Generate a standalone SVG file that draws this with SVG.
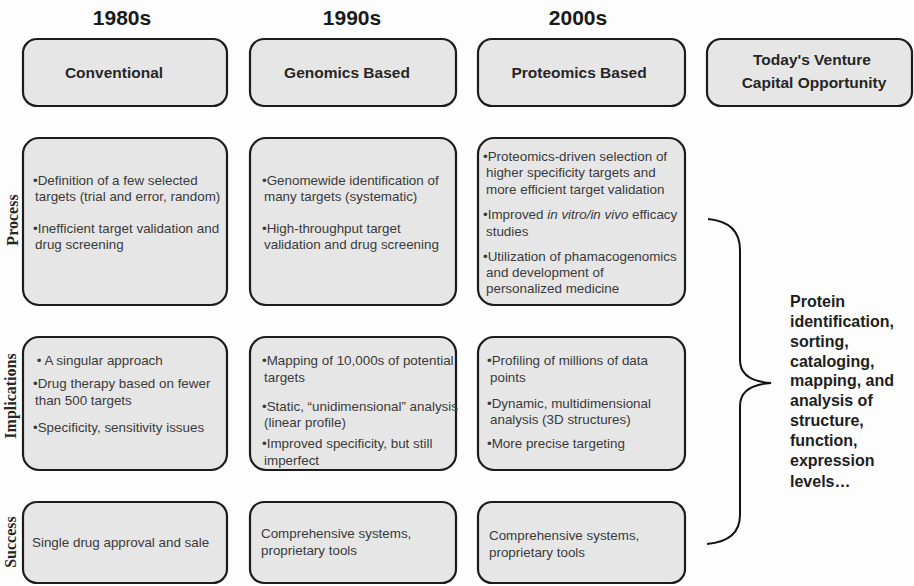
<svg xmlns="http://www.w3.org/2000/svg" width="914" height="586" viewBox="0 0 914 586">
<style>
.box{fill:#e6e6e6;stroke:#1c1c1c;stroke-width:2.2}
.yr{font-family:"Liberation Sans",Arial,sans-serif;font-weight:bold;font-size:21px;fill:#1a1a1a;text-anchor:middle}
.hd{font-family:"Liberation Sans",Arial,sans-serif;font-weight:bold;font-size:15.5px;fill:#262626;text-anchor:middle}
.tx{font-family:"Liberation Sans",Arial,sans-serif;font-size:13.4px;fill:#3a3a3a}
.row{font-family:"Liberation Serif","Times New Roman",serif;font-weight:bold;font-size:16px;fill:#262626;text-anchor:middle}
.side{font-family:"Liberation Sans",Arial,sans-serif;font-weight:bold;font-size:16px;fill:#1e1e1e}
.brace{fill:none;stroke:#111;stroke-width:2}
</style>
<rect width="914" height="586" fill="#fdfdfd"/>
<g id="years">
<text class="yr" x="122" y="25">1980s</text>
<text class="yr" x="352" y="25">1990s</text>
<text class="yr" x="578" y="25">2000s</text>
</g>
<g id="row-labels">
<text class="row" transform="translate(18,220) rotate(-90)">Process</text>
<text class="row" transform="translate(16,396) rotate(-90)">Implications</text>
<text class="row" transform="translate(16,542) rotate(-90)">Success</text>
</g>
<g id="h-conventional"><rect class="box" x="23" y="39" width="204" height="67" rx="14"/><text class="hd" x="114" y="78">Conventional</text></g>
<g id="h-genomics"><rect class="box" x="250" y="39" width="206" height="67" rx="14"/><text class="hd" x="347" y="78">Genomics Based</text></g>
<g id="h-proteomics"><rect class="box" x="478" y="39" width="207" height="67" rx="14"/><text class="hd" x="579" y="78">Proteomics Based</text></g>
<g id="h-today"><rect class="box" x="707" y="39" width="205" height="67" rx="14"/><text class="hd" x="812" y="65">Today's Venture</text><text class="hd" x="814" y="88">Capital Opportunity</text></g>

<g id="p-conventional"><rect class="box" x="23" y="138" width="204" height="167" rx="16"/>
<text class="tx" x="33" y="185">•Definition of a few selected</text>
<text class="tx" x="35" y="201">targets (trial and error, random)</text>
<text class="tx" x="33" y="233">•Inefficient target validation and</text>
<text class="tx" x="35" y="249">drug screening</text></g>
<g id="p-genomics"><rect class="box" x="250" y="138" width="206" height="167" rx="16"/>
<text class="tx" x="262" y="185">•Genomewide identification of</text>
<text class="tx" x="264" y="201">many targets (systematic)</text>
<text class="tx" x="262" y="233">•High-throughput target</text>
<text class="tx" x="264" y="249">validation and drug screening</text></g>
<g id="p-proteomics"><rect class="box" x="478" y="138" width="207" height="167" rx="16"/>
<text class="tx" x="483" y="161">•Proteomics-driven selection of</text>
<text class="tx" x="486" y="177">higher specificity targets and</text>
<text class="tx" x="486" y="194">more efficient target validation</text>
<text class="tx" x="483" y="219">•Improved <tspan font-style="italic">in vitro/in vivo</tspan> efficacy</text>
<text class="tx" x="486" y="236">studies</text>
<text class="tx" x="483" y="261">•Utilization of phamacogenomics</text>
<text class="tx" x="486" y="277">and development of</text>
<text class="tx" x="486" y="293">personalized medicine</text></g>

<g id="i-conventional"><rect class="box" x="23" y="337" width="204" height="133" rx="16"/>
<text class="tx" x="33" y="365" xml:space="preserve"> • A singular approach</text>
<text class="tx" x="33" y="388">•Drug therapy based on fewer</text>
<text class="tx" x="35" y="405">than 500 targets</text>
<text class="tx" x="33" y="432">•Specificity, sensitivity issues</text></g>
<g id="i-genomics"><rect class="box" x="250" y="337" width="206" height="133" rx="16"/>
<text class="tx" x="262" y="365">•Mapping of 10,000s of potential</text>
<text class="tx" x="264" y="382">targets</text>
<text class="tx" x="262" y="411">•Static, “unidimensional” analysis</text>
<text class="tx" x="264" y="427">(linear profile)</text>
<text class="tx" x="262" y="448">•Improved specificity, but still</text>
<text class="tx" x="264" y="465">imperfect</text></g>
<g id="i-proteomics"><rect class="box" x="478" y="337" width="207" height="133" rx="16"/>
<text class="tx" x="487" y="365">•Profiling of millions of data</text>
<text class="tx" x="490" y="382">points</text>
<text class="tx" x="487" y="408">•Dynamic, multidimensional</text>
<text class="tx" x="490" y="424">analysis (3D structures)</text>
<text class="tx" x="487" y="448">•More precise targeting</text></g>

<g id="s-conventional"><rect class="box" x="23" y="502" width="204" height="81" rx="14"/>
<text class="tx" x="32" y="547">Single drug approval and sale</text></g>
<g id="s-genomics"><rect class="box" x="250" y="502" width="206" height="81" rx="14"/>
<text class="tx" x="261" y="538">Comprehensive systems,</text>
<text class="tx" x="261" y="555">proprietary tools</text></g>
<g id="s-proteomics"><rect class="box" x="478" y="502" width="207" height="81" rx="14"/>
<text class="tx" x="489" y="540">Comprehensive systems,</text>
<text class="tx" x="489" y="557">proprietary tools</text></g>

<g id="connectors">
<path class="brace" d="M708,219 Q740,222 740,250 L740,360 Q740,381 771,383 Q740,385 740,406 L740,515 Q740,541 707,544"/>
</g>
<g id="opportunity">
<text class="side" x="790" y="307">Protein</text>
<text class="side" x="790" y="327">identification,</text>
<text class="side" x="790" y="347">sorting,</text>
<text class="side" x="790" y="367">cataloging,</text>
<text class="side" x="790" y="386">mapping, and</text>
<text class="side" x="790" y="406">analysis of</text>
<text class="side" x="790" y="426">structure,</text>
<text class="side" x="790" y="446">function,</text>
<text class="side" x="790" y="466">expression</text>
<text class="side" x="790" y="487">levels…</text>
</g>
</svg>
